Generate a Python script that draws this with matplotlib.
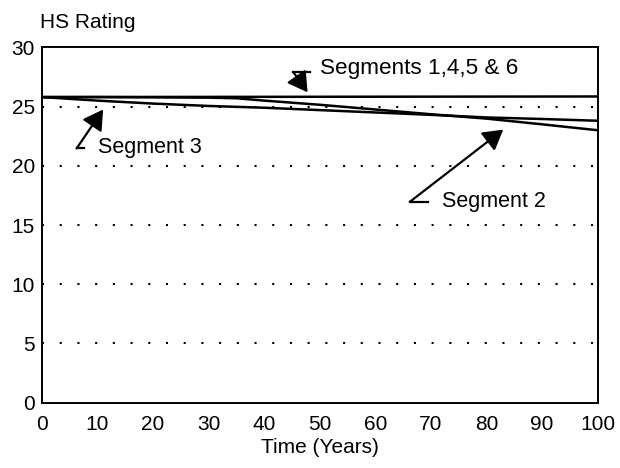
import matplotlib
matplotlib.use("Agg")
import matplotlib.pyplot as plt

plt.rcParams['font.family'] = ['Liberation Sans', 'DejaVu Sans']

# Data
years_flat = [0, 100]
seg_1456 = [25.8, 25.85]

years_s3 = [0, 10, 20, 30, 40, 50, 60, 70, 80, 90, 100]
seg_3 = [25.8, 25.5, 25.25, 25.05, 24.9, 24.7, 24.5, 24.3, 24.08, 23.95, 23.8]

years_s2 = [0, 10, 20, 30, 35, 40, 50, 60, 70, 80, 90, 100]
seg_2 = [25.8, 25.8, 25.78, 25.75, 25.7, 25.5, 25.15, 24.75, 24.35, 23.98, 23.5, 23.0]

x_ticks = [0, 10, 20, 30, 40, 50, 60, 70, 80, 90, 100]
y_ticks = [0, 5, 10, 15, 20, 25, 30]
grid_levels = [5, 10, 15, 20, 25]

FS = 15
AFS = 15.5

fig = plt.figure(figsize=(6.2, 4.68), dpi=100)
ax = fig.add_axes([0.0677, 0.1395, 0.8963, 0.7594])

for g in grid_levels:
    ax.axhline(g, color='black', lw=1.5, linestyle=(0, (1, 7.5)), zorder=1)

ax.plot(years_flat, seg_1456, color='black', lw=1.8, zorder=3)
ax.plot(years_s3, seg_3, color='black', lw=1.8, zorder=3)
ax.plot(years_s2, seg_2, color='black', lw=1.8, zorder=3)

ax.set_xlim(0, 100)
ax.set_ylim(0, 30)
ax.set_xticks(x_ticks)
ax.set_yticks(y_ticks)
ax.tick_params(axis='both', length=0, labelsize=FS)
ax.tick_params(axis='x', pad=9)
ax.tick_params(axis='y', pad=5)
for s in ax.spines.values():
    s.set_linewidth(1.4)

ax.set_xlabel('Time (Years)', fontsize=FS, labelpad=3)
fig.text(40 / 620, 1 - 22 / 468, 'HS Rating', fontsize=FS, ha='left', va='center')

arrow_kw = dict(arrowstyle='-|>,head_length=0.6,head_width=0.35', color='black',
                lw=1.6, mutation_scale=20, shrinkA=0, shrinkB=0)

# Segments 1,4,5 & 6
ax.plot([48.2, 45.2], [27.93, 27.93], color='black', lw=1.6, clip_on=False)
ax.annotate('', xy=(47.8, 26.2), xytext=(45.2, 27.93), arrowprops=arrow_kw)
ax.text(50.0, 28.25, 'Segments 1,4,5 & 6', fontsize=16.2, ha='left', va='center')

# Segment 3
ax.plot([7.6, 6.24], [21.47, 21.47], color='black', lw=1.6)
ax.annotate('', xy=(11.0, 24.75), xytext=(6.24, 21.47), arrowprops=arrow_kw)
ax.text(10.1, 21.55, 'Segment 3', fontsize=AFS, ha='left', va='center')

# Segment 2
ax.plot([69.5, 66.2], [16.96, 16.96], color='black', lw=1.6)
ax.annotate('', xy=(83.0, 23.05), xytext=(66.2, 16.96), arrowprops=arrow_kw)
ax.text(71.9, 16.96, 'Segment 2', fontsize=AFS, ha='left', va='center')

fig.savefig('out.png', dpi=100, facecolor='white')
